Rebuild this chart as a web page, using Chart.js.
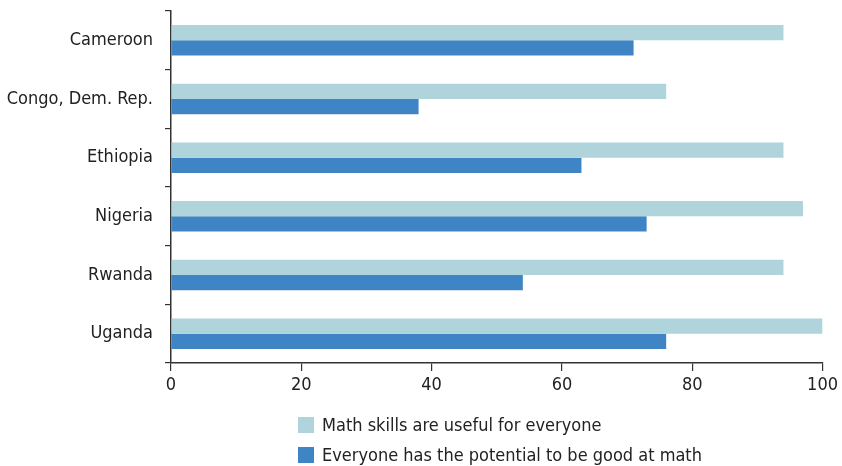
<!DOCTYPE html>
<html>
<head>
<meta charset="utf-8">
<script src="https://cdn.jsdelivr.net/npm/chart.js@4/dist/chart.umd.min.js"></script>
<style>
    html, body { margin: 0; padding: 0; background: #fff; }
    #wrap { position: relative; width: 842px; height: 466px; }
    #legenda {
        position: absolute; left: 298px; top: 410px;
        font-family: "Liberation Sans Narrow", "DejaVu Sans Condensed", sans-serif;
        font-size: 18px; color: #222; line-height: 20px;
    }
    #legenda div { display: flex; align-items: center; height: 30px; }
    #legenda span.caixa { width: 16px; height: 16px; margin-right: 8px; display: inline-block; }
</style>
</head>
<body>
<div id="wrap">
    <canvas id="grafico" width="842" height="466"></canvas>
    <div id="legenda"></div>
</div>
<script>
// dados
const paises = ['Cameroon', 'Congo, Dem. Rep.', 'Ethiopia', 'Nigeria', 'Rwanda', 'Uganda'];
const uteis = [94, 76, 94, 97, 94, 100];
const potencial = [71, 38, 63, 73, 54, 76];
const ticksX = [0, 20, 40, 60, 80, 100];
const nomesSeries = ['Math skills are useful for everyone', 'Everyone has the potential to be good at math'];

const fonte = '"Liberation Sans Narrow", "DejaVu Sans Condensed", sans-serif';

document.addEventListener("DOMContentLoaded", () => {
    const ctx = document.getElementById('grafico');

    const grafico = new Chart(ctx, {
        type: 'bar',
        data: {
            labels: paises,
            datasets: [
                {
                    label: nomesSeries[0],
                    data: uteis,
                    backgroundColor: '#AFD4DB',
                    borderWidth: 0
                },
                {
                    label: nomesSeries[1],
                    data: potencial,
                    backgroundColor: '#3F85C5',
                    borderWidth: 0
                }
            ]
        },
        options: {
            indexAxis: 'y',
            responsive: false,
            animation: false,
            layout: {
                padding: { top: 11, right: 16, bottom: 63, left: 0 }
            },
            datasets: {
                bar: {
                    categoryPercentage: 0.52,
                    barPercentage: 1.0
                }
            },
            plugins: {
                legend: { display: false },
                tooltip: { enabled: false }
            },
            scales: {
                x: {
                    min: 0,
                    max: 100,
                    afterBuildTicks: (eixo) => {
                        eixo.ticks = ticksX.map(v => ({ value: v }));
                    },
                    afterFit: (eixo) => { eixo.height = 40; },
                    border: { display: true, color: '#333', width: 1.5 },
                    grid: {
                        drawOnChartArea: false,
                        drawTicks: true,
                        tickLength: 8,
                        color: '#333',
                        lineWidth: 1.2
                    },
                    ticks: {
                        color: '#222',
                        padding: 4,
                        font: { family: fonte, size: 18 }
                    }
                },
                y: {
                    afterFit: (eixo) => {
                        eixo.width = 171;
                        eixo.paddingTop = 0;
                        eixo.paddingBottom = 0;
                    },
                    border: { display: true, color: '#333', width: 1.5 },
                    grid: {
                        offset: true,
                        drawOnChartArea: false,
                        drawTicks: true,
                        tickLength: 6,
                        color: '#333',
                        lineWidth: 1.2
                    },
                    ticks: {
                        color: '#222',
                        padding: 12,
                        font: { family: fonte, size: 18 }
                    }
                }
            }
        }
    });

    // legenda em duas linhas, montada a partir dos datasets
    const legenda = document.getElementById('legenda');
    grafico.data.datasets.forEach(ds => {
        const linha = document.createElement('div');
        const caixa = document.createElement('span');
        caixa.className = 'caixa';
        caixa.style.background = ds.backgroundColor;
        linha.appendChild(caixa);
        linha.appendChild(document.createTextNode(ds.label));
        legenda.appendChild(linha);
    });
});
</script>
</body>
</html>
